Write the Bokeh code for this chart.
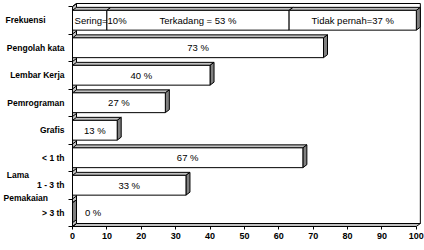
from bokeh.plotting import figure
from bokeh.models import Range1d, FixedTicker
from bokeh.embed import file_html
from bokeh.resources import INLINE
from bokeh.core.properties import value

# ---- data -------------------------------------------------------------
row_labels = ["Frekuensi", "Pengolah kata", "Lembar Kerja", "Pemrograman",
              "Grafis", "< 1 th", "1 - 3 th", "> 3 th"]
program_names = ["Pengolah kata", "Lembar Kerja", "Pemrograman", "Grafis"]
program_values = [73, 40, 27, 13]
duration_names = ["< 1 th", "1 - 3 th", "> 3 th"]
duration_values = [67, 33, 0]
freq_names = ["Sering", "Terkadang", "Tidak pernah"]
freq_values = [10, 53, 37]
freq_labels = ["Sering=10%", "Terkadang = 53 %", "Tidak pernah=37 %"]
group_label = ["Lama", "Pemakaian"]
x_ticks = [0, 10, 20, 30, 40, 50, 60, 70, 80, 90, 100]

# ---- geometry ---------------------------------------------------------
FRAME_W, FRAME_H = 349, 224
X_END = 101.5
N = len(row_labels)
ROW_PX = 27.5
Y_END = N + 4 / ROW_PX
PX_X = FRAME_W / X_END
DX = 4 / PX_X          # depth offset (data units)
DY = 3 / ROW_PX
H = 0.36               # half bar height

FONT = "Liberation Sans"
WALL = "#c0c0c0"
TOP = "#c0c0c0"
SIDE = "#808080"
NBSP = "\u00a0"


def yc(name):
    return N - row_labels.index(name) - 0.5


p = figure(frame_width=FRAME_W, frame_height=FRAME_H,
           x_range=Range1d(0, X_END), y_range=Range1d(0, Y_END),
           output_backend="svg", toolbar_location=None,
           min_border_left=72, min_border_right=3,
           min_border_top=2, min_border_bottom=24)
p.outline_line_color = None
p.grid.visible = False
p.background_fill_color = "white"
p.border_fill_color = "white"

# back wall, floor, side wall
p.quad(left=[DX], right=[100 + DX], bottom=[DY], top=[N + DY],
       fill_color="white", line_color="black", line_width=1)
p.patch([0, 100, 100 + DX, DX], [0, 0, DY, DY],
        fill_color=WALL, line_color="black", line_width=1)
p.patch([0, DX, DX, 0], [0, DY, N + DY, N],
        fill_color=WALL, line_color="black", line_width=1)
p.segment(x0=[0] * (N + 1), y0=list(range(N + 1)),
          x1=[DX] * (N + 1), y1=[b + DY for b in range(N + 1)],
          line_color="black", line_width=1)


def bar3d(x0, x1, y, side=True):
    p.patch([x0, x1, x1 + DX, x0 + DX], [y + H, y + H, y + H + DY, y + H + DY],
            fill_color=TOP, line_color="black", line_width=1)
    if side:
        p.patch([x1, x1 + DX, x1 + DX, x1],
                [y - H, y - H + DY, y + H + DY, y + H],
                fill_color=SIDE, line_color="black", line_width=1)
    if x1 > x0:
        p.quad(left=[x0], right=[x1], bottom=[y - H], top=[y + H],
               fill_color="white", line_color="black", line_width=1)


label_style = dict(text_font=value(FONT), text_font_size="9.5px",
                   text_color="black", text_baseline="middle")

# frequency row (stacked)
y0 = yc("Frekuensi")
start = 0
for i, v in enumerate(freq_values):
    bar3d(start, start + v, y0, side=(i == len(freq_values) - 1))
    start += v
start = 0
for i, (v, t) in enumerate(zip(freq_values, freq_labels)):
    if i == 0:
        p.text(x=[start + 0.6], y=[y0], text=[t], text_align="left", **label_style)
    else:
        p.text(x=[start + v / 2], y=[y0], text=[t], text_align="center", **label_style)
    start += v

# single bars
for names, vals in ((program_names, program_values), (duration_names, duration_values)):
    for n, v in zip(names, vals):
        y = yc(n)
        bar3d(0, v, y)
        p.text(x=[max(v / 2, 6)], y=[y], text=[f"{v} %"], text_align="center",
               **label_style)

# y axis: row names at the row centres, boundary marks as minor ticks,
# plus the two-line caption of the duration group pushed to the left edge
ya = p.yaxis[0]
centers = [yc(n) for n in row_labels]
group_pos = [1.89, 1.05]
overrides = {c: n for c, n in zip(centers, row_labels)}
overrides[yc("Frekuensi")] = row_labels[0] + NBSP * 8
overrides[group_pos[0]] = group_label[0] + NBSP * 15
overrides[group_pos[1]] = group_label[1] + NBSP * 7
ya.ticker = FixedTicker(ticks=sorted(centers + group_pos), minor_ticks=list(range(N + 1)))
ya.major_label_overrides = overrides
ya.major_tick_out = 0
ya.major_tick_in = 0
ya.minor_tick_out = 4
ya.minor_tick_in = 0
ya.minor_tick_line_color = "black"
ya.major_label_standoff = 4
ya.bounds = (0, N)
ya.axis_line_color = "black"
ya.major_label_text_font = FONT
ya.major_label_text_font_style = "bold"
ya.major_label_text_font_size = "8.5px"
ya.major_label_text_color = "black"

xa = p.xaxis[0]
xa.ticker = FixedTicker(ticks=x_ticks)
xa.major_tick_out = 3
xa.major_tick_in = 0
xa.minor_tick_out = 0
xa.minor_tick_in = 0
xa.major_label_standoff = 3
xa.bounds = (0, 100)
xa.axis_line_color = "black"
xa.major_tick_line_color = "black"
xa.major_label_text_font = FONT
xa.major_label_text_font_style = "bold"
xa.major_label_text_font_size = "9px"
xa.major_label_text_color = "black"

open("out.html", "w").write(file_html(p, INLINE))
